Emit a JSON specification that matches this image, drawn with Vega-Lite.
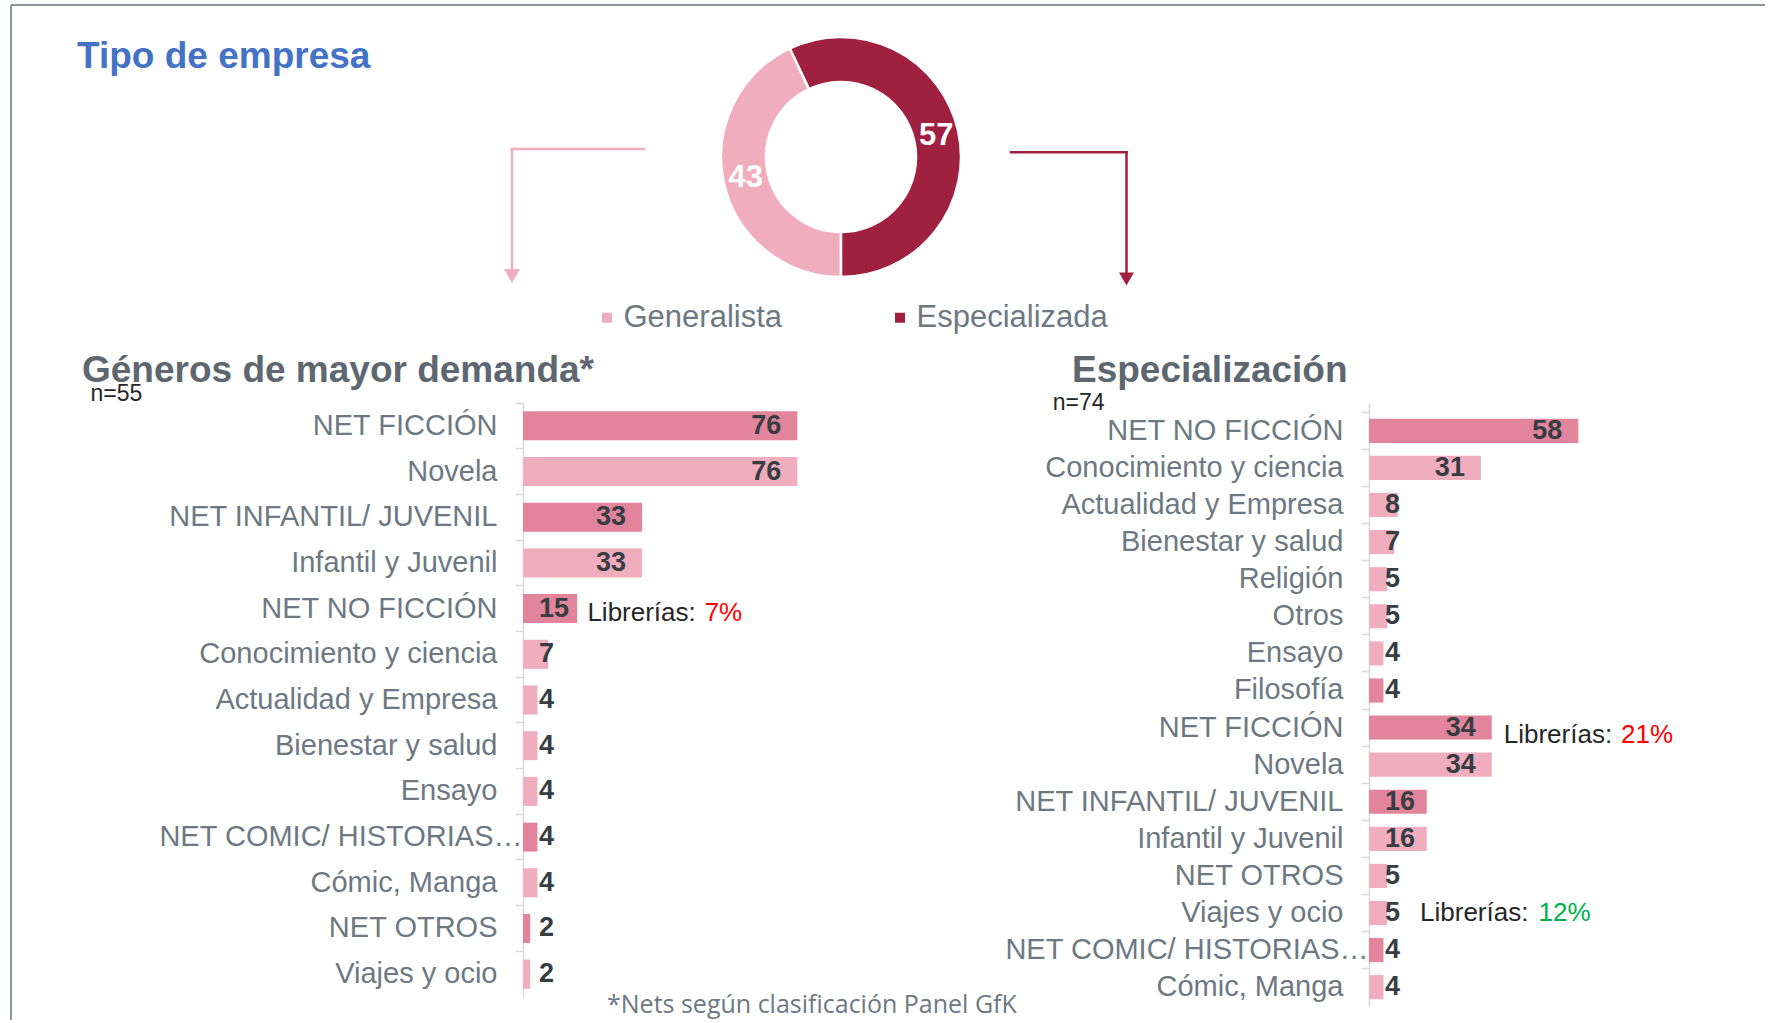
{
  "$schema": "https://vega.github.io/schema/vega-lite/v6.json",
  "background": "white",
  "padding": {"left": 10, "top": 4, "right": 0, "bottom": 0},
  "bounds": "flush",
  "spacing": 0,
  "resolve": {"scale": {"x": "independent", "y": "independent", "color": "independent"}},
  "config": {
    "view": {"stroke": null},
    "font": "Liberation Sans",
    "axis": {"grid": false}
  },
  "vconcat": [
    {
      "width": 1240,
      "height": 398,
      "title": {"text": "Tipo de empresa", "anchor": "start", "frame": "group", "dx": -446, "dy": 101, "offset": 0, "baseline": "alphabetic", "fontSize": 37, "fontWeight": "bold", "color": "#4472C4", "font": "Liberation Sans"},
      "layer": [
        {
          "data": {"values": [{}]},
          "mark": {"type": "rule", "color": "#8C9399", "strokeWidth": 2},
          "encoding": {
            "x": {"datum": -51.2, "type": "quantitative", "scale": {"domain": [0, 124], "nice": false, "zero": false}, "axis": null},
            "x2": {"datum": 124.2},
            "y": {"datum": 0, "type": "quantitative", "scale": {"domain": [0, 39.8], "reverse": true, "nice": false, "zero": false}, "axis": null}
          }
        },
        {
          "data": {"values": [{}]},
          "mark": {"type": "rule", "color": "#8C9399", "strokeWidth": 2},
          "encoding": {
            "x": {"datum": -51.2, "type": "quantitative", "axis": null},
            "y": {"datum": 0, "type": "quantitative", "axis": null},
            "y2": {"datum": 101.5}
          }
        },
        {
          "data": {"values": [{}]},
          "mark": {"type": "rule", "color": "#EFADBE", "strokeWidth": 2.5, "strokeCap": "square"},
          "encoding": {
            "x": {"datum": 12.1, "type": "quantitative", "axis": null},
            "x2": {"datum": -1.1},
            "y": {"datum": 14.4, "type": "quantitative", "axis": null}
          }
        },
        {
          "data": {"values": [{}]},
          "mark": {"type": "rule", "color": "#EFADBE", "strokeWidth": 2.5, "strokeCap": "square"},
          "encoding": {
            "x": {"datum": -1.1, "type": "quantitative", "axis": null},
            "y": {"datum": 14.4, "type": "quantitative", "axis": null},
            "y2": {"datum": 26.6}
          }
        },
        {
          "data": {"values": [{}]},
          "mark": {"type": "point", "shape": "triangle-down", "filled": true, "size": 256, "color": "#EFADBE", "opacity": 1},
          "encoding": {
            "x": {"datum": -1.1, "type": "quantitative", "axis": null},
            "y": {"datum": 27.1, "type": "quantitative", "axis": null}
          }
        },
        {
          "data": {"values": [{}]},
          "mark": {"type": "rule", "color": "#A0203F", "strokeWidth": 2.5, "strokeCap": "square"},
          "encoding": {
            "x": {"datum": 48.8, "type": "quantitative", "axis": null},
            "x2": {"datum": 60.35},
            "y": {"datum": 14.73, "type": "quantitative", "axis": null}
          }
        },
        {
          "data": {"values": [{}]},
          "mark": {"type": "rule", "color": "#A0203F", "strokeWidth": 2.5, "strokeCap": "square"},
          "encoding": {
            "x": {"datum": 60.35, "type": "quantitative", "axis": null},
            "y": {"datum": 14.73, "type": "quantitative", "axis": null},
            "y2": {"datum": 27.0}
          }
        },
        {
          "data": {"values": [{}]},
          "mark": {"type": "point", "shape": "triangle-down", "filled": true, "size": 225, "color": "#A0203F", "opacity": 1},
          "encoding": {
            "x": {"datum": 60.35, "type": "quantitative", "axis": null},
            "y": {"datum": 27.4, "type": "quantitative", "axis": null}
          }
        },
        {
          "data": {"values": [{}]},
          "mark": {"type": "text", "align": "left", "baseline": "alphabetic", "font": "Open Sans", "fontSize": 25, "color": "#6E7881"},
          "encoding": {
            "x": {"datum": 8.4, "type": "quantitative", "axis": null},
            "y": {"datum": 100.83, "type": "quantitative", "axis": null},
            "text": {"value": "*Nets según clasificación Panel GfK"}
          }
        },
        {
          "data": {"values": [{"tipo": "Generalista", "pct": 43}, {"tipo": "Especializada", "pct": 57}]},
          "mark": {"type": "arc", "innerRadius": 75, "outerRadius": 120, "stroke": "white", "strokeWidth": 2.5},
          "encoding": {
            "theta": {"field": "pct", "type": "quantitative", "stack": true, "scale": {"range": [-0.44, 5.8432]}},
            "order": {"field": "pct", "sort": "descending"},
            "color": {
              "field": "tipo", "type": "nominal",
              "scale": {"domain": ["Generalista", "Especializada"], "range": ["#EFADBE", "#A0203F"]},
              "legend": {"orient": "none", "legendX": 68.5, "legendY": 297, "direction": "horizontal", "title": null, "symbolType": "square", "symbolSize": 100, "symbolStrokeWidth": 0, "labelFontSize": 31, "labelFont": "Liberation Sans", "labelColor": "#6E7881", "labelOffset": 1, "columnPadding": 102, "padding": 0, "labelLimit": 400}
            },
            "x": {"datum": 31.8, "type": "quantitative", "axis": null},
            "y": {"datum": 15.2, "type": "quantitative", "axis": null}
          }
        },
        {
          "data": {"values": [{"tipo": "Generalista", "pct": 43}, {"tipo": "Especializada", "pct": 57}]},
          "mark": {"type": "text", "radius": 97.5, "fontSize": 31, "fontWeight": "bold", "color": "white", "font": "Liberation Sans"},
          "encoding": {
            "theta": {"field": "pct", "type": "quantitative", "stack": true, "scale": {"range": [-0.44, 5.8432]}},
            "order": {"field": "pct", "sort": "descending"},
            "text": {"field": "pct", "type": "quantitative"},
            "x": {"datum": 31.8, "type": "quantitative", "axis": null},
            "y": {"datum": 15.2, "type": "quantitative", "axis": null}
          }
        }
      ]
    },
    {
      "hconcat": [
        {
          "width": 361,
          "height": 594,
          "title": {"text": "Géneros de mayor demanda*", "anchor": "start", "frame": "group", "dx": -441, "dy": 36, "offset": 0, "baseline": "alphabetic", "fontSize": 37, "fontWeight": "bold", "color": "#5E6770", "font": "Liberation Sans"},
          "data": {"values": [
            {"categoria": "NET FICCIÓN", "valor": 76, "destacado": "sí"},
            {"categoria": "Novela", "valor": 76, "destacado": "no"},
            {"categoria": "NET INFANTIL/ JUVENIL", "valor": 33, "destacado": "sí"},
            {"categoria": "Infantil y Juvenil", "valor": 33, "destacado": "no"},
            {"categoria": "NET NO FICCIÓN", "valor": 15, "destacado": "sí", "librerias": "7%"},
            {"categoria": "Conocimiento y ciencia", "valor": 7, "destacado": "no"},
            {"categoria": "Actualidad y Empresa", "valor": 4, "destacado": "no"},
            {"categoria": "Bienestar y salud", "valor": 4, "destacado": "no"},
            {"categoria": "Ensayo", "valor": 4, "destacado": "no"},
            {"categoria": "NET COMIC/ HISTORIAS…", "valor": 4, "destacado": "sí"},
            {"categoria": "Cómic, Manga", "valor": 4, "destacado": "no"},
            {"categoria": "NET OTROS", "valor": 2, "destacado": "sí"},
            {"categoria": "Viajes y ocio", "valor": 2, "destacado": "no"}
          ]},
          "encoding": {
            "y": {
              "field": "categoria", "type": "nominal", "sort": null,
              "scale": {"paddingInner": 0.365, "paddingOuter": 0.1825},
              "axis": {"title": "n=55", "titleX": -433, "titleY": -9.3, "titleAngle": 0, "titleAlign": "left", "titleBaseline": "middle", "titleFontSize": 23, "titleFontWeight": "normal", "titleColor": "#262626", "titleFont": "Liberation Sans", "labelFont": "Liberation Sans", "labelFontSize": 29, "labelColor": "#6E7881", "labelPadding": {"condition": {"test": "indexof(datum.value, 'COMIC') >= 0", "value": -7}, "value": 18}, "labelLimit": 600, "tickSize": 8, "tickColor": "#D9D9D9", "tickWidth": 1.5, "domainColor": "#D9D9D9", "domainWidth": 1.5, "bandPosition": -0.287, "grid": false}
            }
          },
          "layer": [
            {
              "mark": {"type": "bar"},
              "encoding": {
                "x": {"field": "valor", "type": "quantitative", "scale": {"domain": [0, 100], "nice": false}, "axis": null},
                "color": {"field": "destacado", "type": "nominal", "scale": {"domain": ["sí", "no"], "range": ["#E2849C", "#EFADBE"]}, "legend": null}
              }
            },
            {
              "transform": [{"filter": "datum.valor >= 17"}],
              "mark": {"type": "text", "align": "right", "baseline": "middle", "dx": -16, "fontSize": 27, "fontWeight": "bold", "color": "#383D42"},
              "encoding": {"x": {"field": "valor", "type": "quantitative", "axis": null}, "text": {"field": "valor", "type": "quantitative"}}
            },
            {
              "transform": [{"filter": "datum.valor < 17"}],
              "mark": {"type": "text", "align": "left", "baseline": "middle", "dx": 16, "fontSize": 27, "fontWeight": "bold", "color": "#383D42"},
              "encoding": {"x": {"datum": 0, "type": "quantitative", "axis": null}, "text": {"field": "valor", "type": "quantitative"}}
            },
            {
              "transform": [{"filter": "datum.categoria === 'NET NO FICCIÓN'"}],
              "mark": {"type": "text", "align": "left", "baseline": "middle", "dx": 10.25, "dy": 4, "fontSize": 26, "color": "#262626"},
              "encoding": {"x": {"field": "valor", "type": "quantitative", "axis": null}, "text": {"value": "Librerías:"}}
            },
            {
              "transform": [{"filter": "datum.categoria === 'NET NO FICCIÓN'"}],
              "mark": {"type": "text", "align": "left", "baseline": "middle", "dx": 127.5, "dy": 4, "fontSize": 26, "color": "#FF0000"},
              "encoding": {"x": {"field": "valor", "type": "quantitative", "axis": null}, "text": {"field": "librerias"}}
            }
          ]
        },
        {
          "width": 361,
          "height": 603,
          "title": {"text": "Especialización", "anchor": "start", "frame": "group", "dx": -297, "dy": 27.7, "offset": 0, "baseline": "alphabetic", "fontSize": 37, "fontWeight": "bold", "color": "#5E6770", "font": "Liberation Sans"},
          "data": {"values": [
            {"categoria": "NET NO FICCIÓN", "valor": 58, "destacado": "sí"},
            {"categoria": "Conocimiento y ciencia", "valor": 31, "destacado": "no"},
            {"categoria": "Actualidad y Empresa", "valor": 8, "destacado": "no"},
            {"categoria": "Bienestar y salud", "valor": 7, "destacado": "no"},
            {"categoria": "Religión", "valor": 5, "destacado": "no"},
            {"categoria": "Otros", "valor": 5, "destacado": "no"},
            {"categoria": "Ensayo", "valor": 4, "destacado": "no"},
            {"categoria": "Filosofía", "valor": 4, "destacado": "sí"},
            {"categoria": "NET FICCIÓN", "valor": 34, "destacado": "sí", "librerias": "21%"},
            {"categoria": "Novela", "valor": 34, "destacado": "no"},
            {"categoria": "NET INFANTIL/ JUVENIL", "valor": 16, "destacado": "sí"},
            {"categoria": "Infantil y Juvenil", "valor": 16, "destacado": "no"},
            {"categoria": "NET OTROS", "valor": 5, "destacado": "no"},
            {"categoria": "Viajes y ocio", "valor": 5, "destacado": "no", "librerias": "12%"},
            {"categoria": "NET COMIC/ HISTORIAS…", "valor": 4, "destacado": "sí"},
            {"categoria": "Cómic, Manga", "valor": 4, "destacado": "no"}
          ]},
          "encoding": {
            "y": {
              "field": "categoria", "type": "nominal", "sort": null,
              "scale": {"paddingInner": 0.35, "paddingOuter": 0.304, "align": 0.7},
              "axis": {"title": "n=74", "titleX": -316.7, "titleY": -1, "titleAngle": 0, "titleAlign": "left", "titleBaseline": "middle", "titleFontSize": 23, "titleFontWeight": "normal", "titleColor": "#262626", "titleFont": "Liberation Sans", "labelFont": "Liberation Sans", "labelFontSize": 29, "labelColor": "#6E7881", "labelPadding": {"condition": {"test": "indexof(datum.value, 'COMIC') >= 0", "value": -7}, "value": 18}, "labelLimit": 600, "tickSize": 8, "tickColor": "#D9D9D9", "tickWidth": 1.5, "domainColor": "#D9D9D9", "domainWidth": 1.5, "bandPosition": -0.269, "grid": false}
            }
          },
          "layer": [
            {
              "mark": {"type": "bar"},
              "encoding": {
                "x": {"field": "valor", "type": "quantitative", "scale": {"domain": [0, 100], "nice": false}, "axis": null},
                "color": {"field": "destacado", "type": "nominal", "scale": {"domain": ["sí", "no"], "range": ["#E2849C", "#EFADBE"]}, "legend": null}
              }
            },
            {
              "transform": [{"filter": "datum.valor >= 17"}],
              "mark": {"type": "text", "align": "right", "baseline": "middle", "dx": -16, "fontSize": 27, "fontWeight": "bold", "color": "#383D42"},
              "encoding": {"x": {"field": "valor", "type": "quantitative", "axis": null}, "text": {"field": "valor", "type": "quantitative"}}
            },
            {
              "transform": [{"filter": "datum.valor < 17"}],
              "mark": {"type": "text", "align": "left", "baseline": "middle", "dx": 16, "fontSize": 27, "fontWeight": "bold", "color": "#383D42"},
              "encoding": {"x": {"datum": 0, "type": "quantitative", "axis": null}, "text": {"field": "valor", "type": "quantitative"}}
            },
            {
              "transform": [{"filter": "datum.categoria === 'NET FICCIÓN'"}],
              "mark": {"type": "text", "align": "left", "baseline": "middle", "dx": 12, "dy": 7.5, "fontSize": 26, "color": "#262626"},
              "encoding": {"x": {"field": "valor", "type": "quantitative", "axis": null}, "text": {"value": "Librerías:"}}
            },
            {
              "transform": [{"filter": "datum.categoria === 'NET FICCIÓN'"}],
              "mark": {"type": "text", "align": "left", "baseline": "middle", "dx": 129.3, "dy": 7.5, "fontSize": 26, "color": "#FF0000"},
              "encoding": {"x": {"field": "valor", "type": "quantitative", "axis": null}, "text": {"field": "librerias"}}
            },
            {
              "transform": [{"filter": "datum.categoria === 'Viajes y ocio'"}],
              "mark": {"type": "text", "align": "left", "baseline": "middle", "dx": 33, "dy": 0, "fontSize": 26, "color": "#262626"},
              "encoding": {"x": {"field": "valor", "type": "quantitative", "axis": null}, "text": {"value": "Librerías:"}}
            },
            {
              "transform": [{"filter": "datum.categoria === 'Viajes y ocio'"}],
              "mark": {"type": "text", "align": "left", "baseline": "middle", "dx": 151.5, "dy": 0, "fontSize": 26, "color": "#00B050"},
              "encoding": {"x": {"field": "valor", "type": "quantitative", "axis": null}, "text": {"field": "librerias"}}
            }
          ]
        }
      ],
      "spacing": 485,
      "bounds": "flush",
      "resolve": {"scale": {"x": "independent", "y": "independent", "color": "independent"}}
    }
  ]
}
